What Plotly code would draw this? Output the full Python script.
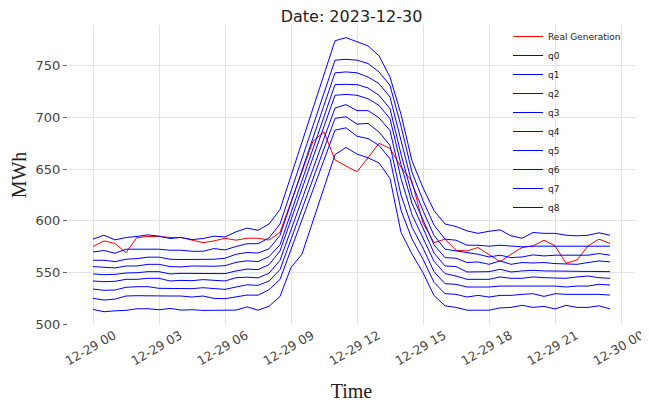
import pandas as pd
import plotly.graph_objects as go

# ---- data (half-hourly, 2023-12-29) ----
start_time = "2023-12-29 00:00"
n_points = 48

real_generation = [575.3, 580.7, 578.2, 569.4, 584, 585, 585, 584, 584, 581.7, 579, 580.7, 583.3, 581.4,
                   583.3, 583.3, 581.5, 589, 618, 648, 677, 686, 659, 653, 647.5, 661, 675, 670,
                   652, 638, 598, 579, 582.4, 571.7, 571, 574.3, 567.8, 560.7, 567.8, 574.3,
                   575.9, 581.4, 575.9, 559.1, 562.3, 575.9, 582.4, 578.2]

q0 = [514.5, 512.3, 513.2, 513.6, 515.2, 515.2, 514.2, 515.5, 513.9, 514.2, 513.6, 513.6, 513.6, 513.9,
      517, 513.8, 517.6, 527, 555, 568, 600, 632, 664, 671, 664.5, 661, 656, 641,
      589, 568, 550, 528, 518, 516.5, 513.8, 513.8, 513.8, 516, 516.5, 518.5,
      516.5, 517.5, 515, 518.5, 516.5, 516.5, 518, 515]

q1 = [525.2, 523.6, 524.5, 527.5, 527.8, 527.5, 527.5, 527.5, 527.5, 526.5, 527.5, 525.2, 524.9, 526.8,
      528.4, 528.3, 533.6, 543.5, 572.4, 601.3, 630, 659, 687.7, 689.9, 681.8, 679.5, 673, 660,
      610.3, 582.5, 563, 540.7, 529.7, 529.1, 526.5, 528.1, 526.5, 528.1, 528.1, 529.1,
      529.7, 527.1, 529.7, 529.1, 529.1, 529.7, 529.1, 528.4]

q2 = [534.2, 533, 533.3, 535.9, 536.5, 536.5, 534.9, 534.6, 534.9, 534.6, 535.5, 534.6, 533.9, 536.2,
      538.3, 537.8, 542, 553, 582.3, 611.6, 641, 670.3, 699, 700.6, 693.5, 694.2, 685.8, 672.9,
      625, 594, 573.8, 551, 539.4, 538.8, 536.2, 536.2, 536.2, 537.1, 537.1, 537.1,
      537.1, 537.1, 537.1, 536.2, 537.1, 537.1, 538.8, 538.1]

q3 = [542, 541.3, 541.7, 543.6, 543.6, 544.6, 544.6, 542, 542.6, 542.3, 543.3, 542.6, 542, 545.2,
      545.7, 545, 549.5, 562, 591.6, 621, 650.8, 680.4, 709, 712.3, 706.5, 706.5, 699.6, 687.3,
      640.9, 606, 583.6, 561, 549.1, 546.8, 543.6, 543.6, 543.6, 545.9, 544.6, 544.6,
      545.9, 545.2, 545.2, 544.6, 545.9, 546.8, 545.2, 544.6]

q4 = [548.8, 548.1, 548.4, 549.7, 550, 551, 551, 548.8, 549.4, 549.4, 549.7, 549.7, 549.1, 551.7,
      553.5, 553, 557.7, 571, 601, 631, 661, 691, 721.3, 722.2, 721.3, 718, 711.6, 698.7,
      654.4, 617, 592.6, 569, 556.5, 555.9, 550.7, 551, 551, 553.3, 550.7, 551.7,
      552.3, 551.7, 551.7, 551, 551.7, 551, 551.7, 551]

q5 = [555.9, 555.2, 554.6, 556.5, 556.5, 558.1, 558.1, 555.9, 555.6, 556.5, 556.2, 556.2, 556.8, 560,
      561.5, 560.7, 565.5, 577, 608, 639, 669.8, 700.7, 731.6, 731.9, 731.6, 728.4, 721.3, 708.4,
      664.6, 625, 601, 577, 564.6, 564, 559.8, 560.4, 558.1, 561.4, 558.1, 559.8,
      559.4, 559.8, 558.8, 558.1, 558.1, 559.8, 561.4, 560.4]

q6 = [562, 562, 560.7, 563, 563.6, 565, 565, 563, 562.7, 562.7, 562.7, 563, 564, 567.8,
      569.5, 569, 573, 586, 617.4, 648.8, 680, 711.6, 743, 743.9, 743, 739, 732.6, 719.6,
      678, 636, 610, 586, 572.7, 571.1, 569.4, 567.8, 565.2, 566.9, 564.6, 565.2,
      567.2, 566.2, 566.9, 566.9, 566.2, 566.9, 568.5, 566.9]

q7 = [570, 571.4, 568.8, 572.7, 572.7, 572.7, 572.7, 571.7, 571.7, 570.7, 570.7, 573.3, 572, 575.3,
      578, 578, 583.5, 597, 628.7, 660.4, 692, 723.8, 755.2, 756.1, 755.2, 752, 743.9, 730.9,
      691.7, 647, 619.7, 596, 582.4, 581.4, 576.5, 576.5, 575.6, 576.5, 575.6, 575,
      575.6, 575.6, 575.3, 575.6, 575.6, 575.6, 575.9, 575.6]

q8 = [582.4, 586.2, 581.7, 584, 585, 586.5, 585.3, 583, 584, 582, 583, 585.3, 584.5, 589.5,
      593, 591, 597, 611, 643.6, 676, 709, 741.5, 774, 777, 773, 769, 759.5, 739,
      703, 658, 632, 610, 597, 594.6, 590.4, 588, 590, 591.4, 585.6, 583.3,
      588.8, 588, 588, 586.2, 585.6, 586.2, 588.5, 586.2]

quantile_names = ["q0", "q1", "q2", "q3", "q4", "q5", "q6", "q7", "q8"]
quantile_values = [q0, q1, q2, q3, q4, q5, q6, q7, q8]

y_ticks = [500, 550, 600, 650, 700, 750]
title_text = "Date: 2023-12-30"

times = pd.date_range(start_time, periods=n_points, freq="30min")

fig = go.Figure()
fig.add_trace(go.Scatter(x=times, y=real_generation, mode="lines", name="Real Generation",
                         line=dict(color="red", width=1)))
for name, vals in zip(quantile_names, quantile_values):
    fig.add_trace(go.Scatter(x=times, y=vals, mode="lines", name=name,
                             line=dict(color="blue", width=1)))

# the page body has an 8px margin, so the figure is 641x394 placed at (8, 8)
fig.update_layout(
    width=641, height=394,
    margin=dict(l=60, r=14, t=17, b=77, autoexpand=False),
    paper_bgcolor="white", plot_bgcolor="white",
    font=dict(family="DejaVu Sans", size=13, color="#444"),
    title=dict(text=title_text, x=0.5, xref="paper", xanchor="center",
               y=1 - 8.5 / 394, yref="container", yanchor="middle",
               font=dict(family="DejaVu Sans", size=16, color="#222")),
    legend=dict(x=0.776, y=1.01, xanchor="left", yanchor="top", maxheight=1,
                bgcolor="rgba(0,0,0,0)", font=dict(size=9, color="#222")),
    showlegend=True,
)
fig.update_xaxes(
    range=["2023-12-28 22:51:49", "2023-12-30 00:38:10"],
    tickformat="%m-%d %H", dtick=3 * 3600 * 1000, tick0="2023-12-29 00:00",
    tickangle=-30, ticklabelshift=21, ticklabeloverflow="allow", automargin=False,
    tickfont=dict(size=12.5),
    showgrid=True, gridcolor="#e3e3e3", gridwidth=1,
    zeroline=False, showline=False, ticks="",
    title=dict(text="Time", font=dict(family="Liberation Serif", size=20, color="#222"), standoff=22),
)
fig.update_yaxes(
    range=[499.5, 789.2], tickvals=y_ticks, automargin=False,
    showgrid=True, gridcolor="#e3e3e3", gridwidth=1,
    zeroline=False, showline=False, ticks="outside", ticklen=4, tickcolor="#666",
    title=dict(text="MWh", font=dict(family="Liberation Serif", size=20, color="#222"), standoff=6),
)

fig.write_html("out.html")
